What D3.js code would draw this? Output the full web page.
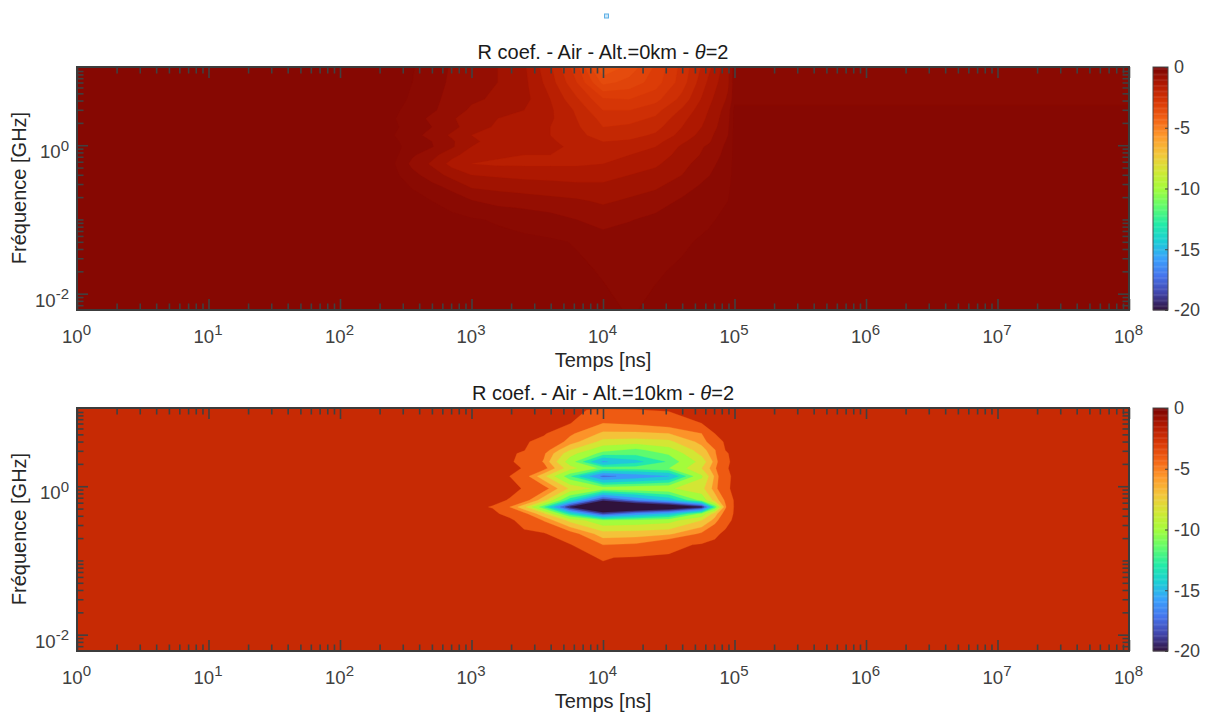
<!DOCTYPE html>
<html><head><meta charset="utf-8">
<script src="https://cdn.jsdelivr.net/npm/d3@7"></script>
<style>html,body{margin:0;background:#fff}svg{display:block}text{font-family:"Liberation Sans",Arial,sans-serif}</style>
</head><body><svg id="c" width="1207" height="713"></svg>
<script>
// ---------- chart text and tick data ----------
const titleTop = "R coef. - Air - Alt.=0km - ";
const titleBottom = "R coef. - Air - Alt.=10km - ";
const thetaSymbol = "\u03B8";
const thetaValue = "=2";
const xLabel = "Temps [ns]";
const yLabel = "Fr\u00E9quence [GHz]";
const xMajorExp = [0,1,2,3,4,5,6,7,8];
const yLabelExp = [0,-2];
const yAllDecades = [-3,-2,-1,0,1];
const colorbarTicks = [0,-5,-10,-15,-20];

// ---------- top panel: dB, rows = log10 f, columns = log10 t ----------
const topLogT = [0,2.4,2.55,2.7,2.85,3.0,3.2,3.4,3.6,3.8,4.0,4.2,4.4,4.6,4.8,4.95,5.0,8];
const topLogF = [1.054,.85,.62,.47,.36,.247,.135,.05,-.02,-.13,-.25,-.4,-.55,-.75,-1.0,-1.3,-1.7,-2.22];
const topValues = [
[-.5,-.5,-.58,-.75,-.93,-1.05,-1.2,-1.45,-2.05,-2.9,-4.2,-3.8,-3.25,-2.6,-1.9,-1.3,-.75,-.72],
[-.5,-.5,-.6,-.78,-.95,-1.08,-1.2,-1.42,-1.95,-2.7,-3.7,-3.5,-3.15,-2.55,-1.75,-1.25,-.74,-.72],
[-.5,-.52,-.63,-.82,-1.0,-1.15,-1.25,-1.4,-1.8,-2.35,-2.95,-3.0,-2.8,-2.3,-1.6,-1.15,-.72,-.72],
[-.5,-.55,-.68,-.85,-1.05,-1.25,-1.35,-1.5,-1.75,-2.15,-2.7,-2.7,-2.5,-2.05,-1.5,-1.05,-.5,-.5],
[-.5,-.57,-.75,-.97,-1.15,-1.4,-1.5,-1.6,-1.75,-2.1,-2.5,-2.5,-2.35,-1.9,-1.45,-1.0,-.5,-.5],
[-.5,-.55,-.7,-.9,-1.1,-1.35,-1.55,-1.65,-1.8,-2.05,-2.4,-2.35,-2.2,-1.8,-1.4,-.95,-.5,-.5],
[-.5,-.58,-.8,-1.0,-1.25,-1.5,-1.65,-1.7,-1.8,-2.0,-2.25,-2.2,-2.05,-1.7,-1.3,-.9,-.5,-.5],
[-.5,-.55,-.7,-.9,-1.15,-1.45,-1.6,-1.65,-1.75,-1.95,-2.1,-2.05,-1.9,-1.55,-1.25,-.85,-.5,-.5],
[-.5,-.53,-.68,-.88,-1.15,-1.5,-1.65,-1.7,-1.75,-1.85,-2.0,-1.95,-1.8,-1.45,-1.15,-.82,-.5,-.5],
[-.5,-.5,-.85,-1.1,-1.4,-1.65,-1.75,-1.8,-1.8,-1.85,-1.9,-1.8,-1.65,-1.4,-1.1,-.78,-.5,-.5],
[-.5,-.55,-.98,-1.25,-1.6,-1.8,-1.85,-1.85,-1.85,-1.85,-1.8,-1.7,-1.55,-1.3,-1.0,-.75,-.5,-.5],
[-.5,-.5,-.8,-1.05,-1.3,-1.5,-1.55,-1.6,-1.6,-1.6,-1.6,-1.5,-1.4,-1.2,-.92,-.7,-.5,-.5],
[-.5,-.5,-.62,-.82,-1.0,-1.25,-1.3,-1.35,-1.4,-1.45,-1.45,-1.35,-1.25,-1.05,-.8,-.65,-.5,-.5],
[-.5,-.5,-.52,-.6,-.72,-.88,-1.0,-1.05,-1.1,-1.15,-1.25,-1.15,-1.05,-.85,-.72,-.6,-.5,-.5],
[-.5,-.5,-.5,-.5,-.52,-.57,-.63,-.7,-.78,-.9,-1.0,-.92,-.82,-.72,-.63,-.55,-.5,-.5],
[-.5,-.5,-.5,-.5,-.5,-.5,-.52,-.54,-.56,-.62,-.78,-.72,-.68,-.63,-.56,-.5,-.5,-.5],
[-.5,-.5,-.5,-.5,-.5,-.5,-.5,-.5,-.52,-.55,-.62,-.64,-.62,-.57,-.5,-.5,-.5,-.5],
[-.5,-.5,-.5,-.5,-.5,-.5,-.5,-.5,-.5,-.5,-.54,-.62,-.56,-.5,-.5,-.5,-.5,-.5]
];
const topLevels = [-.6,-.9,-1.2,-1.5,-1.8,-2.1,-2.4,-2.7,-3.0,-3.3,-3.6,-3.9,-4.2,-4.5];
const topShades = [-.3,-.42,-.7,-1.0,-1.35,-1.7,-2.1,-2.45,-2.75,-3.0,-3.25,-3.5,-3.75,-3.9,-4.0];

// ---------- bottom panel ----------
const botLogT = [0,3.0,3.16,3.29,3.4,3.55,3.75,4.0,4.25,4.5,4.75,4.85,4.93,5.0,8];
const botLogF = [1.054,1.027,.847,.71,.6,.486,.44,.33,.243,.135,-.03,-.19,-.28,-.37,-.46,-.64,-.79,-.96,-1.2,-2.22];
const botValues = [
[-2.8,-2.8,-2.8,-2.8,-2.8,-2.8,-2.8,-2.8,-2.8,-2.8,-2.8,-2.8,-2.8,-2.8,-2.8],
[-2.8,-2.8,-2.8,-2.8,-2.8,-2.8,-2.8,-3.2,-3.05,-2.85,-2.8,-2.8,-2.8,-2.8,-2.8],
[-2.8,-2.8,-2.8,-2.8,-2.8,-2.8,-2.95,-4.8,-4.6,-4.2,-3.0,-2.8,-2.8,-2.8,-2.8],
[-2.8,-2.8,-2.8,-2.8,-2.8,-2.8,-4.6,-6.0,-6.0,-5.8,-4.8,-3.0,-2.8,-2.8,-2.8],
[-2.8,-2.8,-2.8,-2.8,-2.8,-3.5,-5.2,-7.4,-7.6,-7.3,-5.4,-3.8,-2.8,-2.8,-2.8],
[-2.8,-2.8,-2.8,-2.8,-2.95,-4.2,-7.0,-9.5,-10.4,-9.0,-6.3,-4.9,-3.0,-2.8,-2.8],
[-2.8,-2.8,-2.8,-2.8,-3.2,-4.6,-7.8,-10.5,-10.8,-9.8,-6.6,-5.0,-3.1,-2.8,-2.8],
[-2.8,-2.8,-2.8,-2.8,-3.5,-4.9,-9.2,-14.2,-12.8,-11.0,-7.8,-5.4,-3.2,-2.8,-2.8],
[-2.8,-2.8,-2.8,-2.8,-3.05,-4.3,-7.8,-10.4,-10.5,-10.0,-7.0,-5.0,-3.1,-2.8,-2.8],
[-2.8,-2.8,-2.8,-3.0,-4.2,-6.6,-11.0,-16.0,-15.0,-14.0,-8.6,-5.6,-3.3,-2.8,-2.8],
[-2.8,-2.8,-2.8,-2.8,-3.05,-4.2,-7.2,-9.0,-8.8,-8.6,-7.4,-5.3,-3.2,-2.8,-2.8],
[-2.8,-2.8,-2.8,-3.05,-4.2,-6.5,-12.0,-18.0,-15.5,-13.5,-9.5,-6.5,-4.6,-2.8,-2.8],
[-2.8,-2.8,-3.05,-4.8,-6.6,-11.0,-18.4,-23.0,-22.0,-21.0,-18.4,-11.0,-5.0,-2.8,-2.8],
[-2.8,-2.8,-2.8,-3.3,-4.4,-6.6,-12.0,-17.0,-15.0,-13.5,-9.5,-6.3,-4.2,-2.8,-2.8],
[-2.8,-2.8,-2.8,-2.8,-3.4,-4.9,-7.4,-9.6,-9.4,-9.0,-7.0,-5.4,-3.4,-2.8,-2.8],
[-2.8,-2.8,-2.8,-2.8,-2.8,-2.85,-4.2,-6.4,-6.3,-6.0,-4.6,-3.2,-2.8,-2.8,-2.8],
[-2.8,-2.8,-2.8,-2.8,-2.8,-2.8,-2.9,-4.8,-4.6,-3.5,-2.8,-2.8,-2.8,-2.8,-2.8],
[-2.8,-2.8,-2.8,-2.8,-2.8,-2.8,-2.8,-3.05,-2.9,-2.8,-2.8,-2.8,-2.8,-2.8,-2.8],
[-2.8,-2.8,-2.8,-2.8,-2.8,-2.8,-2.8,-2.8,-2.8,-2.8,-2.8,-2.8,-2.8,-2.8,-2.8],
[-2.8,-2.8,-2.8,-2.8,-2.8,-2.8,-2.8,-2.8,-2.8,-2.8,-2.8,-2.8,-2.8,-2.8,-2.8]
];
const botLevels = [-3,-4.8,-5.8,-7,-8.4,-10,-11.2,-12.4,-14,-15.6,-17,-18.4];
const botShades = [-2.2,-4,-5.5,-7,-8.5,-10,-11.5,-13,-14.5,-16,-17.5,-19,-20];

// colormap stops (turbo, dark-red top end)
const turboStops = ["#30123b","#4145ab","#4675ed","#39a2fc","#1bcfd4","#24eca6","#61fc6c","#a4fc3b","#d1e834","#f3c63a","#fe9b2d","#f36315","#d93806","#b11901","#7a0402"];

// ---------- layout ----------
const L=77, R=1129, H=243, panelTops=[67,408];
const AX="#404040";
const svg=d3.select("#c");
const defs=svg.append("defs");
const turboScale=d3.scaleLinear().domain(turboStops.map((_,i)=>-20+20*i/(turboStops.length-1))).range(turboStops).clamp(true);
const color=v=>turboScale(v);

const x=d3.scaleLog().domain([1,1e8]).range([L,R]);
const xMinor=xMajorExp.slice(0,-1).flatMap(e=>d3.range(2,10).map(m=>m*10**e));

function styleAxis(g){
  g.select(".domain").remove();
  g.selectAll(".tick line").attr("stroke",AX).attr("stroke-width",1.6);
}
function supLabel(sel, exp){
  sel.text(null).attr("fill",AX).attr("font-size",18.6);
  sel.append("tspan").text("10");
  sel.append("tspan").attr("dy",-7.5).attr("font-size",15).text(exp);
}

function panel(top,logT,logF,values,levels,shades,titleText){
  const y=d3.scaleLog().domain([10**-2.22,10**1.054]).range([top+H,top]);
  const g=svg.append("g");
  const id="clip"+top;
  defs.append("clipPath").attr("id",id).append("rect").attr("x",L).attr("y",top).attr("width",R-L).attr("height",H);

  const nx=logT.length, ny=logF.length;
  const flat=values.flat().map(v=>-v);
  const idxX=d3.scaleLinear().domain(logT.map((_,i)=>i+.5)).range(logT).clamp(true);
  const idxY=d3.scaleLinear().domain(logF.map((_,i)=>i+.5)).range(logF).clamp(true);
  const proj=d3.geoTransform({point(a,b){this.stream.point(x(10**idxX(a)),y(10**idxY(b)));}});
  const path=d3.geoPath(proj);
  const field=g.append("g").attr("clip-path",`url(#${id})`);
  field.append("rect").attr("x",L).attr("y",top).attr("width",R-L).attr("height",H).attr("fill",color(shades[0]));
  const contours=d3.contours().size([nx,ny]).smooth(true).thresholds(levels.map(v=>-v))(flat);
  contours.forEach((c,i)=>{
    const col=color(shades[i+1]);
    field.append("path").attr("d",path(c)).attr("fill",col).attr("stroke",col).attr("stroke-width",.3);
  });

  [[d3.axisBottom,top+H,-1],[d3.axisTop,top,1]].forEach(([ax,pos,s])=>{
    g.append("g").attr("transform",`translate(0,${pos})`)
      .call(ax(x).tickValues(xMinor).tickSize(-6.5).tickFormat("")).call(styleAxis);
    const a2=g.append("g").attr("transform",`translate(0,${pos})`)
      .call(ax(x).tickValues(xMajorExp.map(e=>10**e)).tickSize(-11)
        .tickFormat(()=>"")).call(styleAxis);
    if(s<0){
      a2.selectAll(".tick text").each(function(d,i){
        const t=d3.select(this).attr("y",null).attr("dy",null).attr("text-anchor","middle").attr("transform","translate(-1,32.5)");
        supLabel(t,xMajorExp[i]);
      });
    }
  });
  const yMinor=yAllDecades.flatMap(e=>d3.range(1,10).map(m=>m*10**e)).filter(v=>v>=y.domain()[0]&&v<=y.domain()[1]&&!yLabelExp.some(e=>Math.abs(v/10**e-1)<1e-6));
  [[d3.axisLeft,L,-1],[d3.axisRight,R,1]].forEach(([ax,pos,s])=>{
    g.append("g").attr("transform",`translate(${pos},0)`)
      .call(ax(y).tickValues(yMinor).tickSize(-6.5).tickFormat("")).call(styleAxis);
    const a2=g.append("g").attr("transform",`translate(${pos},0)`)
      .call(ax(y).tickValues(yLabelExp.map(e=>10**e)).tickSize(-11).tickFormat(()=>"")).call(styleAxis);
    if(s<0){
      a2.selectAll(".tick text").each(function(d,i){
        const t=d3.select(this).attr("x",null).attr("dy",null).attr("text-anchor","end").attr("transform","translate(-8,12.5)");
        supLabel(t,yLabelExp[i]);
      });
    }
  });
  g.append("rect").attr("x",L).attr("y",top).attr("width",R-L).attr("height",H).attr("fill","none").attr("stroke","#3c3c3c").attr("stroke-width",2);

  const tt=g.append("text").attr("x",603).attr("y",top-8).attr("text-anchor","middle").attr("font-size",20).attr("fill","#1a1a1a");
  tt.append("tspan").text(titleText);
  tt.append("tspan").attr("font-style","italic").text(thetaSymbol);
  tt.append("tspan").text(thetaValue);
  g.append("text").attr("x",603).attr("y",top+H+57).attr("text-anchor","middle").attr("font-size",20).attr("fill","#262626").text(xLabel);
  g.append("text").attr("transform",`translate(26,${top+121}) rotate(-90)`).attr("text-anchor","middle").attr("font-size",20).attr("fill","#262626").text(yLabel);

  const cbX=1153, cbW=15;
  const cs=d3.scaleLinear().domain([-20,0]).range([top+H,top]);
  const steps=d3.range(-20,0,.1);
  g.selectAll(".cb").data(steps).join("rect").attr("x",cbX).attr("width",cbW)
    .attr("y",d=>cs(d+.1)).attr("height",d=>cs(d)-cs(d+.1)+.4).attr("fill",d=>color(d+.05));
  g.append("rect").attr("x",cbX).attr("y",top).attr("width",cbW).attr("height",H).attr("fill","none").attr("stroke","#4a4a4a").attr("stroke-width",1);
  const ca=g.append("g").attr("transform",`translate(${cbX+cbW},0)`)
    .call(d3.axisRight(cs).tickValues(colorbarTicks).tickSize(-3).tickFormat(d=>d));
  ca.select(".domain").remove();
  ca.selectAll(".tick line").attr("stroke",AX);
  ca.selectAll(".tick text").attr("font-size",18).attr("fill",AX).attr("x",6);
}

panel(panelTops[0],topLogT,topLogF,topValues,topLevels,topShades,titleTop);
panel(panelTops[1],botLogT,botLogF,botValues,botLevels,botShades,titleBottom);

svg.append("rect").attr("x",604.5).attr("y",14).attr("width",4).attr("height",4).attr("fill","#cfe8f8").attr("stroke","#5fb0e6").attr("stroke-width",1);
</script></body></html>
